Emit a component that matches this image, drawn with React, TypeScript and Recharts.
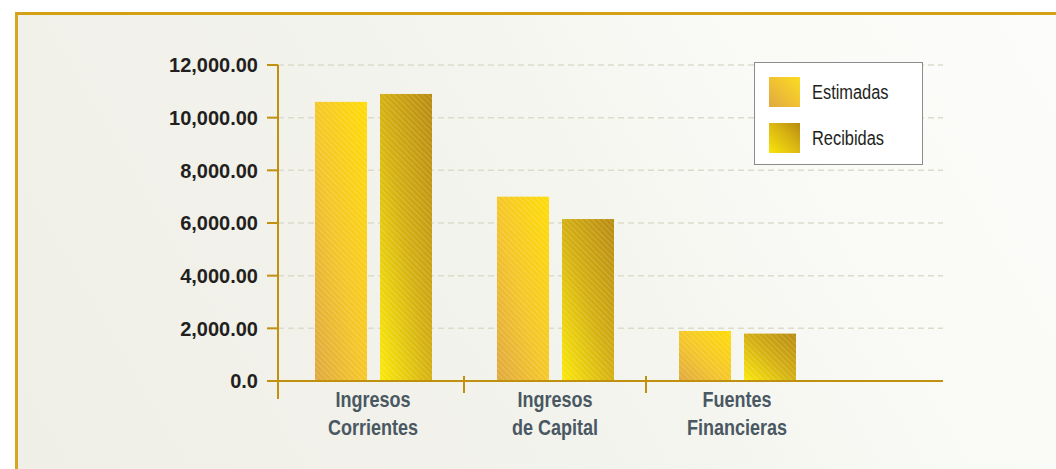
import React from 'react';
import { BarChart, Bar, XAxis, YAxis, CartesianGrid, Legend } from 'recharts';

const categories = ['Ingresos Corrientes', 'Ingresos de Capital', 'Fuentes Financieras'];
const categoryLines = [
  ['Ingresos', 'Corrientes'],
  ['Ingresos', 'de Capital'],
  ['Fuentes', 'Financieras'],
];
const estimadas = [10600, 7000, 1900];
const recibidas = [10900, 6150, 1800];
const seriesNames = ['Estimadas', 'Recibidas'];
const yTicks = [0, 2000, 4000, 6000, 8000, 10000, 12000];
const yTickLabels = ['0.0', '2,000.00', '4,000.00', '6,000.00', '8,000.00', '10,000.00', '12,000.00'];

const data = categories.map((c, i) => ({ name: c, estimadas: estimadas[i], recibidas: recibidas[i] }));

const AXIS = '#c0900e';
const FONT = "'Liberation Sans', Arial, sans-serif";
const NARROW_SCALE = 0.82;
const PAD_LEFT = 4;

const YTick = (props: any) => {
  const { x, y, payload, index } = props;
  const i = yTicks.indexOf(payload.value);
  return (
    <text x={x} y={y} dy="0.36em" textAnchor="end" fill="#231f20" fontFamily={FONT}
      fontWeight={700} fontSize={20}>
      {yTickLabels[i >= 0 ? i : index]}
    </text>
  );
};

const XTick = (props: any) => {
  const { x, y, payload, index } = props;
  const off = payload && typeof payload.offset === 'number' ? payload.offset : 91;
  const lines = categoryLines[index] || [String(payload.value)];
  const bx = index === 0 ? x - off - PAD_LEFT : x - off;
  return (
    <g>
      {index === 0 ? (
        <line x1={bx} x2={bx} y1={y} y2={y + 18} stroke={AXIS} strokeWidth={2} />
      ) : (
        <line x1={bx} x2={bx} y1={y - 5} y2={y + 12} stroke={AXIS} strokeWidth={2} />
      )}
      <text transform={`translate(${x},${y}) scale(${NARROW_SCALE},1)`} textAnchor="middle"
        fill="#4a5862" fontFamily={FONT} fontWeight={700} fontSize={22}>
        <tspan x={0} y={26}>{lines[0]}</tspan>
        {lines[1] ? <tspan x={0} y={54}>{lines[1]}</tspan> : null}
      </text>
    </g>
  );
};

const makeBarShape = (gradId: string) => (props: any) => {
  const { x, y, width, height } = props;
  if (!height || height <= 0) return <g />;
  return (
    <g>
      <rect x={x} y={y} width={width} height={height} fill={`url(#${gradId})`} />
      <rect x={x} y={y} width={width} height={height} fill="url(#stripes)" />
    </g>
  );
};

const swatchBg = [
  'linear-gradient(to top right, #e0a940 0%, #f0c232 50%, #fbdc22 100%)',
  'linear-gradient(to top right, #f8e40a 0%, #d9b612 55%, #b88a10 100%)',
];

const renderLegend = (props: any) => {
  const payload = props.payload || [];
  return (
    <div style={{
      position: 'relative', width: 169, height: 103, boxSizing: 'border-box',
      border: '1.5px solid #8c8c8c', background: '#ffffff',
    }}>
      {payload.map((entry: any, i: number) => (
        <div key={i}>
          <div style={{
            position: 'absolute', left: 14, top: 14 + i * 46, width: 31, height: 30,
            background: swatchBg[i],
          }} />
          <div style={{
            position: 'absolute', left: 57, top: 15 + i * 46, height: 28, lineHeight: '28px',
            fontFamily: FONT, fontSize: 20, color: '#231f20', whiteSpace: 'nowrap',
            transform: `scaleX(${NARROW_SCALE})`, transformOrigin: 'left center',
          }}>{entry.value}</div>
        </div>
      ))}
    </div>
  );
};

export default function App() {
  return (
    <div style={{ position: 'absolute', left: 0, top: 0, width: 1056, height: 469, overflow: 'hidden', background: '#ffffff' }}>
      <div style={{
        position: 'absolute', left: 15, top: 12, width: 1100, height: 520, boxSizing: 'border-box',
        borderTop: '3px solid #d4a015', borderLeft: '3px solid #d8a61c',
        background: 'linear-gradient(60deg, #efefe7 0%, #f3f3ed 45%, #fafaf7 75%, #fcfcfb 100%)',
      }} />
      <div style={{ position: 'absolute', left: 0, top: 0 }}>
        <BarChart width={1056} height={469} data={data} barGap={13}
          margin={{ top: 65, right: 113, bottom: 58, left: 0 }}>
          <defs>
            <linearGradient id="gradEst" x1="1" y1="0" x2="0" y2="1">
              <stop offset="0%" stopColor="#ffdc06" />
              <stop offset="55%" stopColor="#f4c52a" />
              <stop offset="100%" stopColor="#dfa93e" />
            </linearGradient>
            <linearGradient id="gradRec" x1="1" y1="0" x2="0" y2="1">
              <stop offset="0%" stopColor="#b88b12" />
              <stop offset="50%" stopColor="#d4b012" />
              <stop offset="100%" stopColor="#fbe90a" />
            </linearGradient>
            <pattern id="stripes" width="4" height="4" patternUnits="userSpaceOnUse" patternTransform="rotate(45)">
              <rect x="0" y="0" width="4" height="1" fill="#ffffff" fillOpacity="0.18" />
            </pattern>
          </defs>
          <CartesianGrid vertical={false} stroke="#dcdccb" strokeDasharray="6 4" strokeWidth={1.5} />
          <XAxis dataKey="name" type="category" interval={0} height={30} padding={{ left: PAD_LEFT, right: 115 }}
            axisLine={{ stroke: AXIS, strokeWidth: 2 }} tickLine={false} tickSize={0} tickMargin={0}
            tick={<XTick />} />
          <YAxis type="number" domain={[0, 12000]} ticks={yTicks} interval={0} width={278}
            axisLine={{ stroke: AXIS, strokeWidth: 2 }} tickLine={{ stroke: AXIS, strokeWidth: 2 }}
            tickSize={11} tickMargin={9} tick={<YTick />} />
          <Legend layout="horizontal" verticalAlign="middle" align="center" content={renderLegend}
            wrapperStyle={{ position: 'absolute', left: 754, top: 62, width: 169, height: 103 }} />
          <Bar dataKey="estimadas" name={seriesNames[0]} fill="#f4c52a" barSize={52}
            isAnimationActive={false} shape={makeBarShape('gradEst')} />
          <Bar dataKey="recibidas" name={seriesNames[1]} fill="#d4b012" barSize={52}
            isAnimationActive={false} shape={makeBarShape('gradRec')} />
        </BarChart>
      </div>
    </div>
  );
}
